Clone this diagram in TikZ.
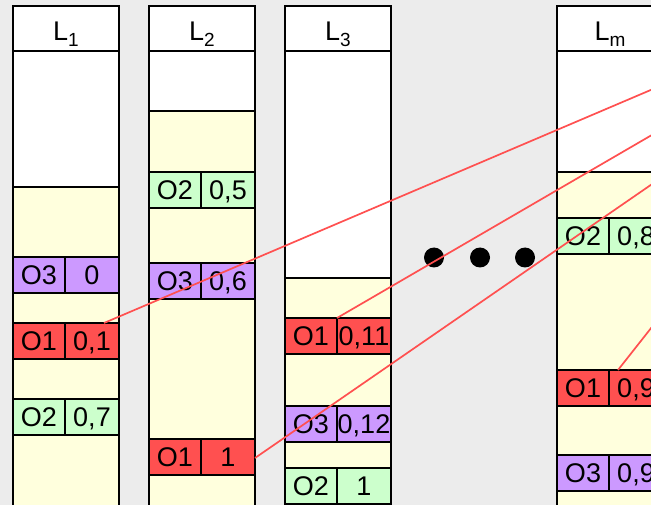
\documentclass[tikz,border=0pt]{standalone}
\usepackage{fontspec}
\setmainfont{Liberation Sans}
\definecolor{bg}{RGB}{236,236,236}
\definecolor{yel}{RGB}{255,255,221}
\definecolor{grn}{RGB}{204,255,204}
\definecolor{pur}{RGB}{204,153,255}
\definecolor{redc}{RGB}{255,80,80}
\definecolor{redl}{RGB}{255,80,80}
\newcommand{\subx}[1]{\raisebox{-6pt}{\fontsize{19}{19}\selectfont #1}}
\begin{document}
\begin{tikzpicture}[x=1pt,y=-1pt,
  body/.style={draw=black, line width=2pt, inner sep=0pt, outer sep=0pt, anchor=north west, minimum width=106pt},
  hdr/.style={body, fill=white, minimum height=45pt, font=\fontsize{27}{27}\selectfont, text height=28.5pt, text depth=5pt},
  cell/.style={draw=black, line width=2pt, inner sep=0pt, outer sep=0pt, anchor=north west, minimum height=36pt, font=\fontsize{27}{27}\selectfont, text height=19.4pt, text depth=0pt},
  ca/.style={cell, minimum width=52pt},
  cb/.style={cell, minimum width=54pt},
  link/.style={draw=redl, line width=1.7pt},
  dotn/.style={circle, fill=black, minimum size=20pt, inner sep=0pt}
]
\useasboundingbox (0,0) rectangle (651,505);
\clip (0,0) rectangle (651,505);
\fill[bg] (0,0) rectangle (651,505);

% ---------- L1 ----------
\node[body, fill=white, minimum height=136pt] (l1w) at (13,51) {};
\node[body, fill=yel, minimum height=333pt] (l1y) at (13,187) {};
\node[ca, fill=pur] (l1o3a) at (13,257) {O3};
\node[cb, fill=pur] (l1o3b) at (65,257) {0};
\node[ca, fill=redc] (l1o1a) at (13,323) {O1};
\node[cb, fill=redc] (l1o1b) at (65,323) {0,1};
\node[ca, fill=grn] (l1o2a) at (13,399) {O2};
\node[cb, fill=grn] (l1o2b) at (65,399) {0,7};
\node[hdr] (l1h) at (13,6) {L\subx{1}};

% ---------- L2 ----------
\node[body, fill=white, minimum height=60pt] (l2w) at (149,51) {};
\node[body, fill=yel, minimum height=409pt] (l2y) at (149,111) {};
\node[ca, fill=grn] (l2o2a) at (149,172) {O2};
\node[cb, fill=grn] (l2o2b) at (201,172) {0,5};
\node[ca, fill=pur] (l2o3a) at (149,263) {O3};
\node[cb, fill=pur] (l2o3b) at (201,263) {0,6};
\node[ca, fill=redc] (l2o1a) at (149,439) {O1};
\node[cb, fill=redc] (l2o1b) at (201,439) {1};
\node[hdr] (l2h) at (149,6) {L\subx{2}};

% ---------- L3 ----------
\node[body, fill=white, minimum height=227pt] (l3w) at (285,51) {};
\node[body, fill=yel, minimum height=242pt] (l3y) at (285,278) {};
\node[ca, fill=redc] (l3o1a) at (285,318) {O1};
\node[cb, fill=redc] (l3o1b) at (337,318) {0,11};
\node[ca, fill=pur] (l3o3a) at (285,406) {O3};
\node[cb, fill=pur] (l3o3b) at (337,406) {0,12};
\node[ca, fill=grn] (l3o2a) at (285,468) {O2};
\node[cb, fill=grn] (l3o2b) at (337,468) {1};
\node[hdr] (l3h) at (285,6) {L\subx{3}};

% ---------- Lm ----------
\node[body, fill=white, minimum height=121pt] (lmw) at (557,51) {};
\node[body, fill=yel, minimum height=348pt] (lmy) at (557,172) {};
\node[ca, fill=grn] (lmo2a) at (557,218) {O2};
\node[cb, fill=grn] (lmo2b) at (609,218) {0,8};
\node[ca, fill=redc] (lmo1a) at (557,370) {O1};
\node[cb, fill=redc] (lmo1b) at (609,370) {0,9};
\node[ca, fill=pur] (lmo3a) at (557,455) {O3};
\node[cb, fill=pur] (lmo3b) at (609,455) {0,9};
\node[hdr] (lmh) at (557,6) {L\subx{m}};

% ---------- dots ----------
\node[dotn] (d1) at (434,257.5) {};
\node[dotn] (d2) at (480,257.5) {};
\node[dotn] (d3) at (525,257.5) {};

% ---------- red links ----------
\coordinate (e1) at (700,69);
\coordinate (e2) at (700,107);
\coordinate (e3) at (700,151);
\coordinate (e4) at (700,266);
\draw[link] ([xshift=12pt]l1o1b.north) -- (e1);
\draw[link] (l3o1a.north east) -- (e2);
\draw[link] ([yshift=-1pt]l2o1b.east) -- (e3);
\draw[link] ([xshift=9pt]lmo1b.north west) -- (e4);
\end{tikzpicture}
\end{document}
